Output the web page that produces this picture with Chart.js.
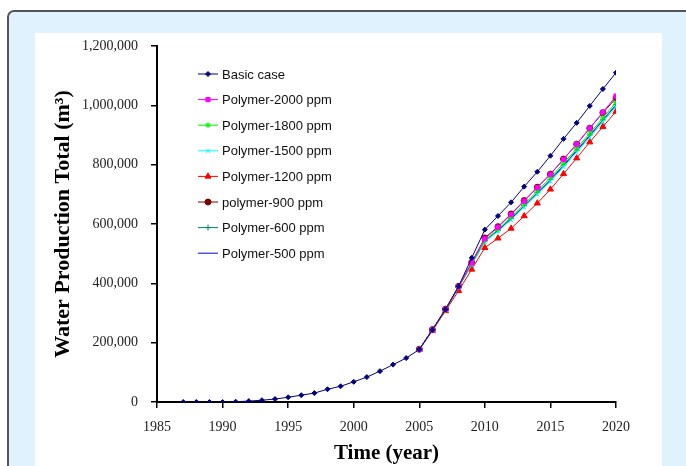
<!DOCTYPE html>
<html>
<head>
<meta charset="utf-8">
<script src="https://cdn.jsdelivr.net/npm/chart.js@4/dist/chart.umd.min.js"></script>
<style>
  html, body { margin: 0; padding: 0; background: #ffffff; overflow: hidden; }
  #frame { position: absolute; left: 7px; top: 10px; width: 700px; height: 470px;
           background: #dff2fd; border: 2px solid #555; border-radius: 7px; }
  #panel { position: absolute; left: 35px; top: 33px; width: 627px; height: 440px; background: #ffffff; }
  #wrap { position: absolute; left: 0; top: 0; width: 686px; height: 466px; }
</style>
</head>
<body>
<div id="frame"></div>
<div id="panel"></div>
<div id="wrap"><canvas id="chart" width="686" height="466"></canvas></div>
<script>
// basic case, yearly 1987..2020
const years = [1987, 1988, 1989, 1990, 1991, 1992, 1993, 1994, 1995, 1996, 1997, 1998, 1999, 2000, 2001, 2002, 2003,
    2004, 2005, 2006, 2007, 2008, 2009, 2010, 2011, 2012, 2013, 2014, 2015, 2016, 2017, 2018, 2019, 2020];
const basicCase = [0, 0, 0, 0, 1000, 3000, 6000, 10000, 16000, 23000, 30000, 43000, 53000, 68000, 84000, 104000, 126000,
    148000, 177000, 243000, 312000, 390000, 486000, 581000, 627000, 673000, 726000, 776000, 830000, 887000, 941000, 998000, 1055000, 1110000];

// polymer runs start in 2005
const polymerYears = [2005, 2006, 2007, 2008, 2009, 2010, 2011, 2012, 2013, 2014, 2015, 2016, 2017, 2018, 2019, 2020];
const polymer2000 = [177000, 243000, 312000, 389000, 469000, 550000, 589000, 632000, 677000, 722000, 767000, 818000, 869000, 923000, 977000, 1031000];
const polymer1800 = [177000, 243000, 311000, 388000, 466000, 545000, 582000, 623000, 667000, 711000, 756000, 805000, 855000, 906000, 958000, 1010000];
const polymer1500 = [177000, 242000, 310000, 386000, 462000, 540000, 575000, 614000, 657000, 700000, 744000, 792000, 842000, 892000, 944000, 995000];
const polymer1200 = [176000, 240000, 307000, 375000, 447000, 520000, 552000, 585000, 627000, 670000, 717000, 769000, 822000, 876000, 928000, 979000];
const polymer900 = [178000, 244000, 313000, 390000, 471000, 553000, 591000, 634000, 679000, 724000, 768000, 819000, 869000, 923000, 975000, 1024000];
const polymer600 = [177000, 243000, 311000, 387000, 464000, 543000, 579000, 619000, 662000, 706000, 750000, 799000, 849000, 900000, 951000, 1003000];
const polymer500 = [177000, 243000, 311000, 387000, 465000, 544000, 578000, 617000, 660000, 703000, 747000, 796000, 846000, 897000, 950000, 1000000];

const xTicks = [1985, 1990, 1995, 2000, 2005, 2010, 2015, 2020];

function pts(xs, ys) {
    return xs.map((x, i) => ({ x: x, y: ys[i] }));
}

function series(label, xs, ys, color, style, radius) {
    return {
        label: label,
        data: pts(xs, ys),
        borderColor: color,
        backgroundColor: color,
        borderWidth: 1,
        pointStyle: style,
        pointRadius: radius,
        pointBorderWidth: 1,
        pointBackgroundColor: color,
        pointBorderColor: color
    };
}

const datasets = [
    series('Basic case', years, basicCase, '#000080', 'rectRot', 2.5),
    series('Polymer-2000 ppm', polymerYears, polymer2000, '#ff00ff', 'rect', 3),
    series('Polymer-1800 ppm', polymerYears, polymer1800, '#00ee00', 'star', 3),
    series('Polymer-1500 ppm', polymerYears, polymer1500, '#00ffff', 'crossRot', 3),
    series('Polymer-1200 ppm', polymerYears, polymer1200, '#ff0000', 'triangle', 3.5),
    series('polymer-900 ppm', polymerYears, polymer900, '#800000', 'circle', 3),
    series('Polymer-600 ppm', polymerYears, polymer600, '#008080', 'cross', 3),
    series('Polymer-500 ppm', polymerYears, polymer500, '#0000ff', 'circle', 0)
];

// legend drawn inside the plot + the rotated y title
const extras = {
    id: 'extras',
    afterDraw(chart) {
        const ctx = chart.ctx;
        ctx.save();
        ctx.font = '13px "Liberation Sans", Arial, sans-serif';
        ctx.textBaseline = 'middle';
        ctx.textAlign = 'left';
        chart.data.datasets.forEach((ds, i) => {
            const y = 74 + i * 25.6;
            ctx.strokeStyle = ds.borderColor;
            ctx.fillStyle = ds.borderColor;
            ctx.lineWidth = 1;
            ctx.beginPath();
            ctx.moveTo(198, y);
            ctx.lineTo(218, y);
            ctx.stroke();
            if (ds.pointRadius > 0) {
                Chart.helpers.drawPoint(ctx, {
                    pointStyle: ds.pointStyle, radius: ds.pointRadius, rotation: 0, borderWidth: 1
                }, 208, y);
            }
            ctx.fillStyle = '#111';
            ctx.fillText(ds.label, 222, y + 1);
        });

        ctx.translate(63, 224);
        ctx.rotate(-Math.PI / 2);
        ctx.font = 'bold 22px "Liberation Serif", "Times New Roman", serif';
        ctx.textAlign = 'center';
        ctx.fillStyle = '#000';
        ctx.fillText('Water Production Total (m\u00B3)', 0, 0);
        ctx.restore();
    }
};

new Chart(document.getElementById('chart'), {
    type: 'line',
    data: { datasets: datasets },
    options: {
        responsive: false,
        animation: false,
        layout: { padding: { top: 46, right: 70, left: 0, bottom: 0 } },
        plugins: { legend: { display: false }, tooltip: { enabled: false } },
        scales: {
            x: {
                type: 'linear',
                min: 1985,
                max: 2020,
                afterFit(scale) { scale.height = 64; },
                afterBuildTicks(scale) { scale.ticks = xTicks.map(v => ({ value: v })); },
                border: { color: '#000', width: 2 },
                grid: { drawOnChartArea: false, drawTicks: true, tickLength: 6, color: '#000', lineWidth: 1.5 },
                ticks: {
                    color: '#222',
                    padding: 11,
                    font: { family: '"Liberation Serif", "Times New Roman", serif', size: 14 },
                    callback: v => String(v)
                },
                title: {
                    display: true,
                    text: 'Time (year)',
                    color: '#000',
                    padding: { top: 2, bottom: 0 },
                    font: { family: '"Liberation Serif", "Times New Roman", serif', size: 21, weight: 'bold' }
                }
            },
            y: {
                min: 0,
                max: 1200000,
                afterFit(scale) { scale.width = 157; },
                border: { color: '#000', width: 2 },
                grid: { drawOnChartArea: false, drawTicks: true, tickLength: 6, color: '#000', lineWidth: 1.5 },
                ticks: {
                    stepSize: 200000,
                    color: '#222',
                    padding: 13,
                    font: { family: '"Liberation Serif", "Times New Roman", serif', size: 14 },
                    callback: v => v.toLocaleString('en-US')
                }
            }
        }
    },
    plugins: [extras]
});
</script>
</body>
</html>
